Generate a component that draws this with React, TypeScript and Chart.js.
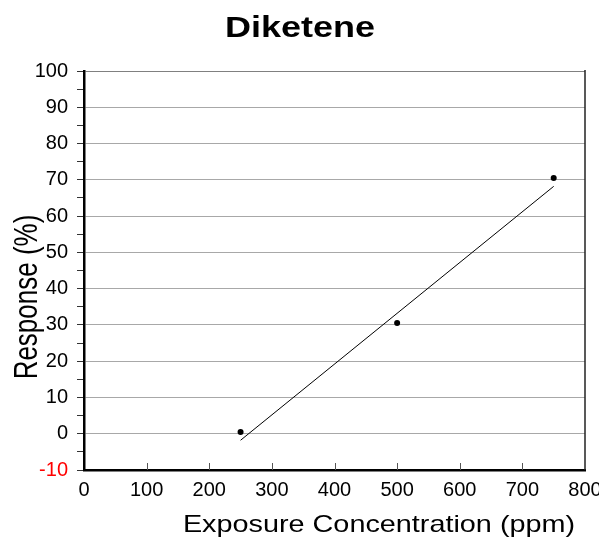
import React, { useEffect, useRef } from 'react';
import { Chart, registerables } from 'chart.js';

Chart.register(...registerables);

const TITLE = 'Diketene';
const X_TITLE = 'Exposure Concentration (ppm)';
const Y_TITLE = 'Response (%)';

const concentrations = [250, 500, 750];
const responses = [0.5, 30.5, 70.5];
const fitX = [250, 750];
const fitY = [-1.8, 68.2];
const xTickValues = [0, 100, 200, 300, 400, 500, 600, 700, 800];
const yMin = -10;
const yMax = 100;

const FONT = '"Liberation Sans", Arial, Helvetica, sans-serif';

const overlay = {
  id: 'overlay',
  afterDraw(chart: any) {
    const ctx = chart.ctx as CanvasRenderingContext2D;
    const a = chart.chartArea;
    const xs = chart.scales.x;
    ctx.save();
    // right border
    ctx.strokeStyle = '#222';
    ctx.lineWidth = 1.5;
    ctx.beginPath();
    ctx.moveTo(a.right, a.top - 1);
    ctx.lineTo(a.right, a.bottom);
    ctx.stroke();
    // inward x ticks
    ctx.strokeStyle = '#555';
    ctx.lineWidth = 1;
    ctx.beginPath();
    for (const v of xTickValues) {
      if (v === xTickValues[0] || v === xTickValues[xTickValues.length - 1]) continue;
      const px = Math.round(xs.getPixelForValue(v)) + 0.5;
      ctx.moveTo(px, a.bottom);
      ctx.lineTo(px, a.bottom - 7);
    }
    ctx.stroke();
    // title
    ctx.fillStyle = '#000';
    ctx.textAlign = 'center';
    ctx.textBaseline = 'alphabetic';
    ctx.font = 'bold 30px ' + FONT;
    ctx.save();
    ctx.translate(300, 37);
    ctx.scale(1.2, 1);
    ctx.fillText(TITLE, 0, 0);
    ctx.restore();
    // x title
    ctx.font = '24px ' + FONT;
    ctx.save();
    ctx.translate(379, 532);
    ctx.scale(1.2, 1);
    ctx.fillText(X_TITLE, 0, 0);
    ctx.restore();
    // y title
    ctx.font = '26px ' + FONT;
    ctx.save();
    ctx.translate(37, 297);
    ctx.scale(1.25, 1);
    ctx.rotate(-Math.PI / 2);
    ctx.fillText(Y_TITLE, 0, 0);
    ctx.restore();
    ctx.restore();
  },
};

export default function App() {
  const ref = useRef<HTMLCanvasElement | null>(null);
  useEffect(() => {
    document.body.style.margin = '0';
    const canvas = ref.current;
    if (!canvas) return;
    const chart = new Chart(canvas, {
      type: 'scatter',
      data: {
        datasets: [
          {
            type: 'scatter',
            data: concentrations.map((x, i) => ({ x, y: responses[i] })),
            backgroundColor: '#000',
            borderColor: '#000',
            pointRadius: 3,
            pointBorderWidth: 0,
          },
          {
            type: 'line',
            data: fitX.map((x, i) => ({ x, y: fitY[i] })),
            borderColor: '#000',
            borderWidth: 1,
            pointRadius: 0,
            showLine: true,
            fill: false,
          } as any,
        ],
      },
      plugins: [overlay],
      options: {
        animation: false,
        responsive: false,
        devicePixelRatio: 1,
        layout: { padding: { top: 71, right: 14, left: 0, bottom: 0 } },
        plugins: {
          legend: { display: false },
          tooltip: { enabled: false },
          title: { display: false },
        },
        scales: {
          x: {
            type: 'linear',
            min: 0,
            max: 800,
            afterFit: (s: any) => {
              s.height = 70;
              s.paddingLeft = 0;
              s.paddingRight = 0;
            },
            afterBuildTicks: (s: any) => {
              s.ticks = xTickValues.map((v) => ({ value: v }));
            },
            grid: { drawOnChartArea: false, drawTicks: false },
            border: { display: true, color: '#000', width: 2.5 },
            ticks: {
              color: '#000',
              padding: 8,
              font: { family: FONT, size: 20 },
              maxRotation: 0,
              autoSkip: false,
            },
          },
          y: {
            type: 'linear',
            min: yMin,
            max: yMax,
            afterFit: (s: any) => {
              s.width = 84;
              s.paddingTop = 0;
              s.paddingBottom = 0;
            },
            grid: {
              drawOnChartArea: true,
              drawTicks: true,
              tickLength: 7,
              tickColor: '#333',
              color: (c: any) => {
                const v = c.tick?.value;
                if (v === undefined) return 'transparent';
                if (v === yMax) return '#808080';
                if (v % 10 === 0 && v > yMin) return '#a8a8a8';
                return 'transparent';
              },
              lineWidth: 1,
            },
            border: { display: true, color: '#000', width: 2.5 },
            ticks: {
              stepSize: 5,
              autoSkip: false,
              padding: 9,
              font: { family: FONT, size: 20 },
              color: (c: any) => (c.tick?.value === yMin ? '#ff0000' : '#000'),
              callback: (v: any) => (Number(v) % 10 === 0 ? String(v) : ''),
            },
          },
        },
      },
    });
    return () => chart.destroy();
  }, []);
  return (
    <div style={{ width: 599, height: 540 }}>
      <canvas ref={ref} width={599} height={540} style={{ display: 'block' }} />
    </div>
  );
}
